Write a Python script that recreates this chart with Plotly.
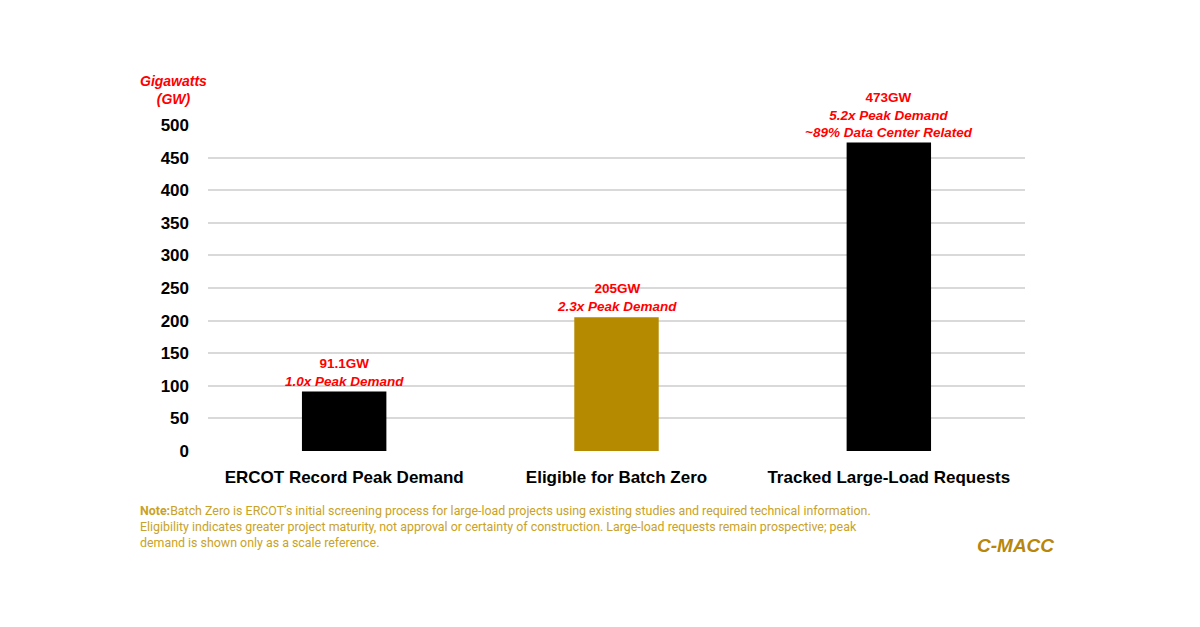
import plotly.graph_objects as go

# data
categories = ["ERCOT Record Peak Demand", "Eligible for Batch Zero", "Tracked Large-Load Requests"]
values = [91.1, 205, 473]
value_labels = ["91.1GW", "205GW", "473GW"]
notes = [["1.0x Peak Demand"], ["2.3x Peak Demand"], ["5.2x Peak Demand", "~89% Data Center Related"]]
bar_colors = ["#000000", "#B58900", "#000000"]
tick_vals = [0, 50, 100, 150, 200, 250, 300, 350, 400, 450, 500]

RED = "#FF0000"
GOLD = "#C9A227"

# plot area in page pixels (page has 8px body margin)
L, R, T, B = 208, 1025, 125, 451
PW, PH = R - L, B - T


def px(x):
    return (x - L) / PW


def py(y):
    return (B - y) / PH


fig = go.Figure()
fig.add_trace(go.Bar(x=categories, y=values, marker_color=bar_colors, width=0.31,
                     marker_line_width=0, hoverinfo="skip"))

for cat, v, lab, nl in zip(categories, values, value_labels, notes):
    txt = "<b>" + lab + "</b><br>" + "<br>".join("<b><i>" + n + "</i></b>" for n in nl)
    fig.add_annotation(x=cat, y=v, xref="x", yref="y", text=txt, showarrow=False,
                       yanchor="bottom", yshift=1, font=dict(size=13.5, color=RED,
                       family="Liberation Sans"))

fig.add_annotation(x=px(173), y=py(90), xref="paper", yref="paper",
                   text="<b><i>Gigawatts<br>(GW)</i></b>", showarrow=False,
                   xanchor="center", yanchor="middle",
                   font=dict(size=14, color=RED, family="Liberation Sans"))

note = ("<b>Note:</b>Batch Zero is ERCOT\u2019s initial screening process for large-load projects using existing studies and required technical information.<br>"
        "Eligibility indicates greater project maturity, not approval or certainty of construction. Large-load requests remain prospective; peak<br>"
        "demand is shown only as a scale reference.")
fig.add_annotation(x=px(138), y=py(501), xref="paper", yref="paper", text=note,
                   showarrow=False, xanchor="left", yanchor="top", align="left",
                   font=dict(size=12.4, color=GOLD, family="Roboto"))
fig.add_annotation(x=px(1056), y=py(545), xref="paper", yref="paper",
                   text="<b><i>C-MACC</i></b>", showarrow=False, xanchor="right", yanchor="middle",
                   font=dict(size=19, color="#B8860B", family="Liberation Sans"))

fig.update_layout(
    width=1200, height=627,
    margin=dict(l=L - 8, r=1208 - R, t=T - 8, b=635 - B),
    paper_bgcolor="white", plot_bgcolor="white",
    showlegend=False,
    font=dict(family="Liberation Sans", color="#000000"),
)
fig.update_yaxes(range=[0, 500], tickvals=tick_vals, showgrid=True, gridcolor="#D9D9D9",
                 gridwidth=1.5, zeroline=False, showline=False, ticks="",
                 ticklabelstandoff=18, tickfont=dict(size=17, color="#000000", weight="bold"))
fig.update_xaxes(showline=False, ticks="", ticklabelstandoff=14,
                 tickfont=dict(size=17, color="#000000", weight="bold"))
fig.update_traces(cliponaxis=False)

fig.write_html("out.html")
